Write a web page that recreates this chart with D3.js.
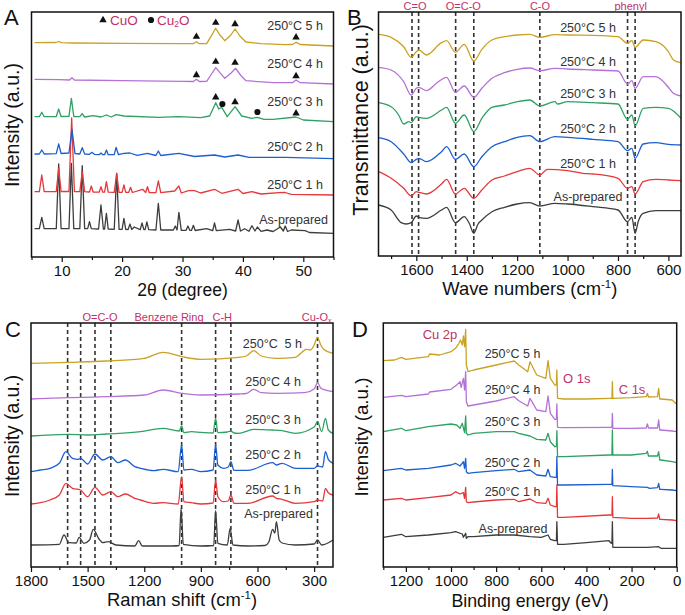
<!DOCTYPE html>
<html><head><meta charset="utf-8">
<script src="https://cdn.jsdelivr.net/npm/d3@7"></script>
<style>
body{margin:0;background:#fff;}
svg{display:block;font-family:"Liberation Sans",Arial,sans-serif;}
</style>
</head><body>
<svg id="chart" width="685" height="615"></svg>
<script>
// ---------------- DATA ----------------
const seriesNames = ["As-prepared","250°C 1 h","250°C 2 h","250°C 3 h","250°C 4 h","250°C 5 h"];
const seriesNamesC = ["As-prepared","250°C 1 h","250°C 2 h","250°C 3 h","250°C 4 h","250°C  5 h"];

// A: XRD, [2theta, intensity a.u. incl. stacking offset]
const xrdAsPrepared = [[5.5,28.3],[6.3,28.3],[6.7,39.7],[7.1,28.3],[9.1,28.3],[9.5,93],[9.9,28.3],[11.2,28.3],[11.6,93.7],[12.0,28.3],[13.0,28.3],[13.4,91.3],[13.8,28.3],[14.3,28.3],[14.6,35.3],[14.9,28.3],[16.1,28],[16.5,52],[16.9,28],[17.1,28],[17.4,43.7],[17.7,28],[18.7,27.7],[19.1,83.7],[19.5,27.7],[20.0,27.7],[20.3,38.7],[20.6,27.7],[21.0,27.5],[21.3,33],[21.6,27.5],[22,30],[23.0,27.3],[23.3,34],[23.6,27.3],[23.8,27.3],[24.1,35],[24.4,27.3],[25.6,27],[26,53.7],[26.4,27],[28.5,27],[28.8,31],[29.1,27],[29.4,44.7],[29.8,26.7],[30.6,26.7],[30.9,31],[31.2,26.7],[31.5,26.7],[31.8,31.7],[32.1,26.5],[34,28.3],[35.0,26.3],[35.3,34],[35.6,26.3],[37.8,27.7],[38.8,26],[39.2,37],[39.6,26],[40.3,28.3],[41,25.7],[41.5,31.3],[42,26],[42.4,30],[43,25.7],[44,27],[45,25.5],[46.2,30],[46.7,26],[47,31],[47.4,25.5],[48,27],[50.3,26.3],[51,24.5],[55,23.7]];
const xrd1h = [[5.5,65.3],[6.3,65.3],[6.7,82],[7.1,65.3],[9.1,65.5],[9.5,88.7],[9.9,65.5],[11.2,65.5],[11.65,139],[12.1,65.5],[13.0,65.3],[13.4,85.3],[13.8,65.3],[14.6,65],[14.9,71],[15.2,65],[16.2,64.8],[16.5,70.3],[16.8,64.8],[17.1,64.8],[17.4,75.3],[17.7,64.8],[18.7,64.7],[19.1,83.7],[19.5,64.7],[20.0,64.7],[20.3,72],[20.6,64.7],[21.1,64.7],[21.4,69.7],[21.7,64.5],[23.4,67.7],[23.9,64.5],[24.2,70.3],[24.5,64.3],[25.6,64.3],[26,76],[26.4,64.3],[28.7,66],[29.4,71],[29.8,64],[31,66.3],[32,66.3],[33,64],[35.3,67.7],[36.5,63.7],[39.2,67.7],[40,63.5],[41.5,65.3],[43,63],[46,64.3],[47,64.5],[48,62.7],[55,62]];
const xrd2h = [[5.5,103],[6.3,103],[6.7,107],[7.1,103],[9.1,103.3],[9.5,113],[9.9,103.5],[11.2,104],[11.7,127.7],[12.2,103.5],[13.0,103],[13.4,109.3],[13.8,103],[14.6,102.7],[15.0,104.7],[15.4,102.7],[16.2,102.3],[16.5,104],[16.8,102.3],[17.1,102.3],[17.4,107],[17.7,102.3],[18.7,102.3],[19.0,109.7],[19.4,102.3],[20.3,103.7],[21.3,104],[22.5,101.7],[24.2,103.7],[25.6,101.5],[26,106],[26.4,101.5],[29.4,103.7],[32,100.5],[35.3,102],[37,100],[39.2,102],[41,99.7],[47,99.7],[55,98.3]];
const xrd3h = [[5.5,140.3],[6.3,140.3],[6.7,144.7],[7.1,140.3],[9.1,140.5],[9.5,148],[9.9,140.5],[11.2,140.7],[11.6,158.7],[12.0,140.5],[13.0,140.3],[13.4,143.3],[13.8,140],[15.2,141.3],[16.5,140],[17.4,142],[18.2,140],[19.0,142.3],[20.3,141],[26,139.7],[29.4,140.3],[33,139.3],[34.5,141],[35.5,154.3],[36.0,148],[36.5,149.7],[37.4,140.3],[38.7,150.3],[39.8,141],[41.5,138.7],[42.4,139.7],[43.5,137.7],[45,137.7],[48.8,140],[50,137],[55,135.3]];
const xrd4h = [[5.5,177.7],[9.5,177.3],[11.3,177],[11.7,179.3],[12.1,177],[20,176.3],[30,175.7],[31.8,175.5],[32.3,177.7],[32.8,175.5],[34,175.7],[34.7,182],[35.5,189.3],[36.3,183.7],[37,178.7],[38,183.7],[38.8,188.7],[39.6,182],[40.5,176.3],[45,174.3],[48.2,174.3],[48.8,177],[49.5,174.3],[55,173]];
const xrd5h = [[5.5,214.3],[9.0,214.5],[9.5,215.5],[10,214.3],[12,214],[20,213.7],[30,213.3],[31.8,213.3],[32.3,215.3],[32.8,213.3],[34,213.3],[34.7,220.3],[35.5,228.7],[36.2,222],[37,216.3],[38,222],[38.7,228],[39.5,221],[40.5,215],[43,213.3],[47,212.3],[48.2,212.5],[48.8,214.7],[49.5,212.5],[55,211]];
const cuoMarks = [[32.3,220.3],[35.5,234.3],[38.7,233],[48.8,219.7],[32.3,182],[35.5,195.3],[38.7,194.3],[48.8,181],[35.5,159.7],[38.7,155],[48.8,143.7]];
const cu2oMarks = [[36.6,153],[42.4,145]];

// B: FTIR, [wavenumber, transmittance a.u.]
const ftirAsPrepared = [[1750,51],[1700,46],[1660,33.3],[1640,32],[1620,33.3],[1600,40],[1590,38.7],[1560,37.7],[1500,46],[1480,48.7],[1445,33.3],[1410,39.3],[1390,32.7],[1372,22.7],[1355,32],[1340,36],[1300,44.3],[1250,48.7],[1200,52],[1150,53.3],[1110,50],[1050,52.7],[1000,52],[900,49.3],[800,46],[762,34.3],[745,38.7],[732,22.7],[720,34.3],[700,42.7],[650,45.3],[600,45.3],[550,45.3]];
const ftir1h = [[1750,84.3],[1700,77.7],[1650,67.7],[1620,60],[1600,64.3],[1590,63.7],[1560,62],[1500,72],[1480,76.7],[1445,62],[1410,67.7],[1372,57.7],[1340,66],[1300,76],[1250,80],[1200,84.3],[1150,87.7],[1110,81],[1080,86.7],[1000,85.3],[940,82.7],[900,82],[800,77.7],[762,67.7],[745,69.3],[732,62],[700,74.3],[650,76.7],[600,76],[550,75.3]];
const ftir2h = [[1750,118.3],[1700,114.3],[1650,102],[1620,93.3],[1600,96.7],[1590,97.7],[1560,94.3],[1500,104.3],[1480,109.3],[1445,96.7],[1410,102],[1372,89.3],[1340,99.3],[1300,109.3],[1250,114.3],[1200,118.7],[1150,120.3],[1110,114.3],[1050,119.3],[1000,118.7],[900,116.7],[800,114.3],[762,105.3],[745,107.7],[732,97.7],[700,112],[650,113.3],[600,111.7],[550,111]];
const ftir3h = [[1750,153.3],[1700,149.3],[1670,141],[1650,132],[1630,134.3],[1620,133.3],[1600,139.3],[1590,138.7],[1560,137.7],[1500,146],[1480,148.7],[1445,132.7],[1410,141],[1372,124.3],[1340,137.7],[1300,148.7],[1250,151],[1200,154.3],[1150,156],[1110,150],[1050,154.3],[1040,152],[1000,154.3],[900,153.3],[800,152],[762,136.7],[745,141],[732,130],[700,147.7],[650,148.7],[600,147.7],[550,137.7]];
const ftir4h = [[1750,188.7],[1700,186],[1650,174.3],[1620,161],[1600,167.7],[1590,168.7],[1560,165.3],[1520,172.7],[1480,178.7],[1445,163.7],[1410,170],[1372,158.7],[1340,167.7],[1300,177.7],[1250,183.3],[1200,186.7],[1150,188],[1110,185.3],[1050,187.7],[1000,187],[900,186],[800,185],[762,172],[745,175.3],[732,167.7],[700,179.3],[650,179.3],[600,168.7],[580,162.7],[550,160]];
const ftir5h = [[1750,221.7],[1700,218.7],[1650,209.3],[1620,198.7],[1600,204.3],[1590,206],[1560,201],[1500,213.3],[1480,215.3],[1445,203.7],[1410,211.7],[1372,195],[1340,206.7],[1300,216],[1250,219.3],[1200,221],[1150,221.7],[1110,218.7],[1050,221.3],[1000,221],[900,220.7],[800,219.3],[762,212.7],[745,215.3],[732,208.7],[700,216],[650,214.3],[600,204.3],[580,196],[550,193.3]];
const ftirBands = [1617,1591,1444,1372,1110,762,732];

// C: Raman, [Raman shift, intensity a.u.]
const ramanAsPrepared = [[1800,22],[1650,22.7],[1625,32],[1600,24.3],[1560,24],[1545,29.7],[1520,23.7],[1490,27],[1470,37.7],[1440,28],[1420,24.3],[1390,25.3],[1350,22],[1250,21],[1230,26.3],[1210,21],[1050,21],[1015,21.5],[1005,58.7],[993,22.7],[900,21],[832,21.5],[822,56.3],[810,23.7],[760,22],[745,38.7],[730,22],[650,21],[560,21.5],[540,25],[520,37.7],[508,34],[500,45.3],[485,27],[470,24],[400,22],[300,23],[282,27],[260,22],[200,27]];
const raman1h = [[1800,63],[1750,64.3],[1700,67],[1650,72],[1615,83.7],[1580,78.7],[1537,77],[1500,70.3],[1461,79.7],[1420,72],[1377,75.3],[1340,70.3],[1300,73],[1250,68.7],[1220,67],[1150,63.7],[1100,64.3],[1020,63],[1002,90.3],[990,65.3],[950,64.3],[900,63],[835,64],[822,87],[810,70.3],[780,65.3],[755,66],[741,72],[725,63.7],[650,63.7],[520,71],[500,68.7],[470,67.7],[400,63.7],[300,65.3],[282,67],[255,66],[240,78.7],[225,74.3],[200,72]];
const raman2h = [[1800,95.3],[1750,97],[1700,98.7],[1650,103.7],[1615,115.3],[1580,108.7],[1550,107.7],[1537,108.7],[1500,103],[1461,113],[1420,107],[1377,110.3],[1340,104.3],[1300,107],[1250,100.3],[1220,98.7],[1150,96.3],[1100,97.7],[1020,95.3],[1002,122.7],[990,97],[950,97.7],[900,95.3],[835,97],[822,122.7],[810,102],[780,98.7],[755,100],[741,105.3],[725,96.7],[650,96.7],[520,104.3],[500,102],[470,103.7],[400,98.7],[300,98.7],[282,101],[255,100],[240,115.3],[225,107.7],[200,103.7]];
const raman3h = [[1800,131],[1606,132.7],[1500,132],[1400,133],[1220,135.3],[1100,138.7],[1015,136],[1002,141],[990,134.3],[950,135.3],[900,134.7],[835,134],[822,148.7],[810,134.3],[760,135],[741,136],[725,134],[700,133.7],[620,137.7],[520,137],[470,136.3],[400,133.7],[300,140],[282,145.3],[260,135.3],[240,148.7],[225,137],[200,133.7]];
const raman4h = [[1800,168],[1600,169.3],[1400,170.3],[1200,172],[1100,177],[1000,173.7],[900,172],[700,173],[660,173.5],[620,177.7],[580,174.3],[500,173.7],[350,174.3],[300,178],[282,184.3],[265,179],[250,177.7],[200,175.3]];
const raman5h = [[1800,203.7],[1600,204.7],[1400,206],[1200,208.7],[1100,214.7],[1000,210.3],[900,207.7],[700,209.7],[660,211],[620,216.3],[580,211],[500,208.7],[400,209.7],[340,217.7],[320,217],[300,222],[282,229.7],[265,222],[250,217.7],[200,213.7]];
const ramanBands = [1606,1537,1461,1377,1002,822,741,282];

// D: XPS survey, [binding energy, intensity a.u.]
const xpsAsPrepared = [[1300,29.7],[1220,32.7],[1200,30.3],[1100,32],[1000,34.3],[980,35.3],[950,33],[945,29.7],[935,33.7],[932,28.7],[925,30.3],[900,30.3],[800,32],[720,32],[650,30.3],[600,29.7],[570,32],[560,27.7],[540,26.3],[533,26.3],[531,45.3],[528,22.7],[500,22.7],[400,24.3],[300,26.3],[290,23.7],[287,24],[285,45.3],[283,19.7],[200,19.7],[130,19.7],[80,20.3],[70,18.7],[0,18.7]];
const xps1h = [[1300,67],[1220,68.7],[1200,67],[1100,69.3],[1000,72],[980,75.3],[960,73],[945,74.3],[940,68.7],[935,79.7],[932,65.3],[925,64.3],[900,65],[800,67],[720,67.7],[700,65.3],[650,68],[620,64.3],[580,63.7],[570,68.7],[560,62],[540,60.3],[533,60.3],[531,82],[528,49.7],[500,49.7],[300,52],[287,52],[285,70.3],[283,49.7],[200,48.7],[130,48.7],[85,49],[80,53],[75,47.7],[70,47.7],[20,47],[0,46.3]];
const xps2h = [[1300,96.3],[1220,98.7],[1200,97],[1100,98.7],[1000,102],[980,103.7],[960,101],[945,105.3],[940,98.7],[935,108.7],[932,95.3],[925,93.7],[900,94.3],[800,96.3],[720,97.7],[700,95.3],[650,97],[620,92],[580,91],[570,97.7],[560,90.3],[540,89.7],[533,89.7],[531,110.3],[528,82],[500,82],[300,82.7],[287,82.7],[285,97.7],[283,81.3],[200,80.3],[130,79.7],[120,78.7],[85,79.3],[80,83.7],[75,77.7],[70,77.7],[20,77],[0,76.3]];
const xps3h = [[1300,135.3],[1220,138.7],[1200,136.3],[1100,140.3],[1000,143],[975,142],[960,138.7],[950,143.7],[940,134.3],[935,151],[932,133.7],[925,132],[900,133.7],[800,135.3],[720,135.3],[700,133.7],[650,131],[620,127.7],[580,127],[570,133.7],[560,125.3],[540,120.3],[533,120.3],[531,136.3],[528,110.3],[500,110.3],[300,112],[287,112],[285,137],[283,112],[200,112],[135,113.7],[130,115.7],[125,111],[85,111],[80,115.3],[75,107],[70,107],[20,105.3],[0,104.3]];
const xps4h = [[1300,169.7],[1220,171.7],[1200,170.3],[1100,173],[1095,175],[1000,177.7],[975,182],[960,185.3],[955,179.7],[945,188.7],[940,177],[935,195.3],[932,165.3],[925,161],[900,162],[800,166],[720,170.3],[700,166.3],[660,161],[650,168.7],[620,157],[580,155.3],[570,171],[560,153.7],[540,147.7],[533,147.7],[531,163],[528,139.7],[500,139.3],[300,139.7],[287,139.7],[285,153.7],[283,138.7],[200,138.7],[135,139],[130,143],[125,139],[85,139],[80,147],[75,137],[70,137],[20,136],[0,135.3]];
const xps5h = [[1300,206.3],[1250,207],[1220,209.7],[1200,207.7],[1100,210.3],[1095,213],[1050,212],[1000,215.3],[980,218.7],[965,223.7],[958,227],[950,222],[945,231],[940,220.3],[935,237.7],[932,202],[925,195.3],[900,197],[800,202],[720,206],[700,202],[660,195.3],[650,205.3],[620,192],[580,188.7],[570,206.3],[560,188.7],[540,182],[533,182],[531,197],[528,168.7],[500,168],[400,168],[300,168.7],[287,168.7],[285,185.3],[283,168.7],[200,169.3],[135,170.3],[130,173.7],[125,170],[85,170.3],[80,178.7],[75,168],[70,168],[20,167],[5,163.7],[0,163.7]];

// tick labels
const ticksA = [10,20,30,40,50], minorA = [5,15,25,35,45,55];
const ticksB = [1600,1400,1200,1000,800,600], minorB = [1700,1500,1300,1100,900,700];
const ticksC = [1800,1500,1200,900,600,300], minorC = [1650,1350,1050,750,450];
const ticksD = [1200,1000,800,600,400,200,0], minorD = [1300,1100,900,700,500,300,100];

// ---------------- STYLE / LAYOUT ----------------
const COLORS = ["#3d3d3d","#e5383b","#1c5fcf","#2fa163","#b571d6","#c9a222"];
const CRIMSON = "#c2306a";
const FONT = "'Liberation Sans', Arial, sans-serif";
const svg = d3.select("#chart");

function drawPanel(cfg){
  const g = svg.append("g");
  const x = d3.scaleLinear().domain(cfg.xDomain).range([cfg.left, cfg.right]);
  const y = d3.scaleLinear().domain(cfg.yDomain).range([cfg.bottom, cfg.top]);
  (cfg.bands||[]).forEach(b=>{
    g.append("line").attr("x1",x(b)).attr("x2",x(b)).attr("y1",cfg.top).attr("y2",cfg.bottom)
      .attr("stroke","#333").attr("stroke-width",1.6).attr("stroke-dasharray","4,3");
  });
  const line = d3.line().x(d=>x(d[0])).y(d=>y(d[1])).curve(cfg.curve);
  cfg.series.forEach((s,i)=>{
    g.append("path").datum(s).attr("d",line).attr("fill","none")
      .attr("stroke",COLORS[i]).attr("stroke-width",1.3).attr("stroke-linejoin","round");
  });
  g.append("rect").attr("x",cfg.left).attr("y",cfg.top)
    .attr("width",cfg.right-cfg.left).attr("height",cfg.bottom-cfg.top)
    .attr("fill","none").attr("stroke","#111").attr("stroke-width",1.5);
  const minor = g.append("g").attr("transform",`translate(0,${cfg.bottom})`)
    .call(d3.axisBottom(x).tickValues(cfg.minor).tickSize(3).tickFormat(""));
  minor.select(".domain").remove();
  minor.selectAll("line").attr("stroke","#111").attr("stroke-width",1.2);
  const major = g.append("g").attr("transform",`translate(0,${cfg.bottom})`)
    .call(d3.axisBottom(x).tickValues(cfg.major).tickSize(5).tickPadding(3.5).tickFormat(d3.format("d")));
  major.select(".domain").remove();
  major.attr("font-size",15).attr("font-family",FONT);
  major.selectAll("line").attr("stroke","#111").attr("stroke-width",1.2);
  major.selectAll("text").attr("fill","#111");
  // x title
  const xt = g.append("text").attr("x",(cfg.left+cfg.right)/2).attr("y",cfg.xTitleY)
    .attr("text-anchor","middle").attr("font-size",cfg.xTitleSize).attr("fill","#111").attr("font-family",FONT);
  xt.append("tspan").text(cfg.xTitle[0]);
  if(cfg.xTitle[1]){ xt.append("tspan").attr("dy",-7).attr("font-size",cfg.xTitleSize*0.62).text(cfg.xTitle[1]);
    xt.append("tspan").attr("dy",7).text(cfg.xTitle[2]); }
  // y title
  g.append("text").attr("transform",`translate(${cfg.yTitleX},${cfg.yTitleY}) rotate(-90)`)
    .attr("text-anchor","middle").attr("dy","0.35em").attr("font-size",cfg.yTitleSize)
    .attr("fill","#111").attr("font-family",FONT).text(cfg.yTitle);
  // panel letter
  g.append("text").attr("x",cfg.letterX).attr("y",cfg.letterY).attr("font-size",22)
    .attr("fill","#111").attr("font-family",FONT).text(cfg.letter);
  // series labels
  cfg.labels.forEach((l,i)=>{
    g.append("text").attr("x",l[0]).attr("y",l[1]).attr("dy","0.35em")
      .attr("text-anchor",cfg.labelAnchor).attr("font-size",12.5).attr("fill","#333")
      .attr("font-family",FONT).style("white-space","pre").text(cfg.names[i]);
  });
  return {g,x,y};
}

// Panel A
const A = drawPanel({left:31.5,right:333.5,top:12,bottom:257,xDomain:[5,55],yDomain:[0,245],
  curve:d3.curveLinear,series:[xrdAsPrepared,xrd1h,xrd2h,xrd3h,xrd4h,xrd5h],
  major:ticksA,minor:minorA,xTitle:["2θ (degree)"],xTitleY:296,xTitleSize:17.5,
  yTitle:"Intensity (a.u.)",yTitleX:12.5,yTitleY:125,yTitleSize:19.6,letter:"A",letterX:4,letterY:25,
  names:seriesNames,labelAnchor:"end",labels:[[328,220],[323,184.3],[323,146.7],[323,101.7],[323,64],[323,26]]});
A.g.selectAll(".cuo").data(cuoMarks).join("path").attr("class","cuo")
  .attr("transform",d=>`translate(${A.x(d[0])},${A.y(d[1])})`)
  .attr("d",d3.symbol(d3.symbolTriangle,24)).attr("fill","#111");
A.g.selectAll(".cu2o").data(cu2oMarks).join("path").attr("class","cu2o")
  .attr("transform",d=>`translate(${A.x(d[0])},${A.y(d[1])})`)
  .attr("d",d3.symbol(d3.symbolCircle,30)).attr("fill","#111");
A.g.append("path").attr("transform","translate(103,20)").attr("d",d3.symbol(d3.symbolTriangle,24)).attr("fill","#111");
A.g.append("text").attr("x",110).attr("y",24.5).attr("font-size",13.5).attr("fill",CRIMSON).attr("font-family",FONT).text("CuO");
A.g.append("path").attr("transform","translate(151,20)").attr("d",d3.symbol(d3.symbolCircle,30)).attr("fill","#111");
const cu2o = A.g.append("text").attr("x",157).attr("y",24.5).attr("font-size",13.5).attr("fill",CRIMSON).attr("font-family",FONT);
cu2o.append("tspan").text("Cu");
cu2o.append("tspan").attr("font-size",8.5).attr("dy",2).text("2");
cu2o.append("tspan").attr("dy",-2).text("O");

// Panel B
const B = drawPanel({left:378.5,right:681,top:12,bottom:256,xDomain:[1750,550],yDomain:[0,244],
  curve:d3.curveMonotoneX,series:[ftirAsPrepared,ftir1h,ftir2h,ftir3h,ftir4h,ftir5h],bands:ftirBands,
  major:ticksB,minor:minorB,xTitle:["Wave numbers (cm","-1",")"],xTitleY:295,xTitleSize:18.4,
  yTitle:"Transmittance (a.u.)",yTitleX:360,yTitleY:120,yTitleSize:21.5,letter:"B",letterX:347,letterY:25,
  names:seriesNames,labelAnchor:"middle",labels:[[588,196.7],[588,163.3],[588,128.3],[588,94],[588,61.7],[588,27.3]]});
[["C=O",415],["O=C-O",463.3],["C-O",540],["phenyl",630.7]].forEach(t=>{
  B.g.append("text").attr("x",t[1]).attr("y",10).attr("text-anchor","middle").attr("font-size",11)
    .attr("fill",CRIMSON).attr("font-family",FONT).text(t[0]);
});

// Panel C
const C = drawPanel({left:31,right:333,top:323,bottom:567,xDomain:[1800,200],yDomain:[0,244],
  curve:d3.curveMonotoneX,series:[ramanAsPrepared,raman1h,raman2h,raman3h,raman4h,raman5h],bands:ramanBands,
  major:ticksC,minor:minorC,xTitle:["Raman shift (cm","-1",")"],xTitleY:606,xTitleSize:18.4,
  yTitle:"Intensity (a.u.)",yTitleX:12,yTitleY:436,yTitleSize:19.3,letter:"C",letterX:5,letterY:337,
  names:seriesNamesC,labelAnchor:"end",labels:[[313,513.3],[301,489.3],[301,455],[301,419.3],[301,381.7],[302,343.3]]});
[["O=C-O",100],["Benzene Ring",169],["C-H",222.3]].forEach(t=>{
  C.g.append("text").attr("x",t[1]).attr("y",320.5).attr("text-anchor","middle").attr("font-size",11)
    .attr("fill",CRIMSON).attr("font-family",FONT).text(t[0]);
});
const cuox = C.g.append("text").attr("x",316.7).attr("y",320.5).attr("text-anchor","middle").attr("font-size",11)
  .attr("fill",CRIMSON).attr("font-family",FONT);
cuox.append("tspan").text("Cu-O");
cuox.append("tspan").attr("font-size",7).attr("dy",2).text("x");

// Panel D
const D = drawPanel({left:383.3,right:676.7,top:323,bottom:567,xDomain:[1300,0],yDomain:[0,244],
  curve:d3.curveLinear,series:[xpsAsPrepared,xps1h,xps2h,xps3h,xps4h,xps5h],
  major:ticksD,minor:minorD,xTitle:["Binding energy (eV)"],xTitleY:607,xTitleSize:17.8,
  yTitle:"Intensity (a.u.)",yTitleX:361.5,yTitleY:437,yTitleSize:18.8,letter:"D",letterX:352,letterY:337,
  names:seriesNames,labelAnchor:"middle",labels:[[513,528.3],[512.5,491.7],[512.5,462.3],[512.5,421.7],[512.5,390],[512.5,353.3]]});
[["Cu 2p",440,339],["O 1s",576.7,383],["C 1s",632,394]].forEach(t=>{
  D.g.append("text").attr("x",t[1]).attr("y",t[2]).attr("text-anchor","middle").attr("font-size",13)
    .attr("fill",CRIMSON).attr("font-family",FONT).text(t[0]);
});
</script>
</body></html>
